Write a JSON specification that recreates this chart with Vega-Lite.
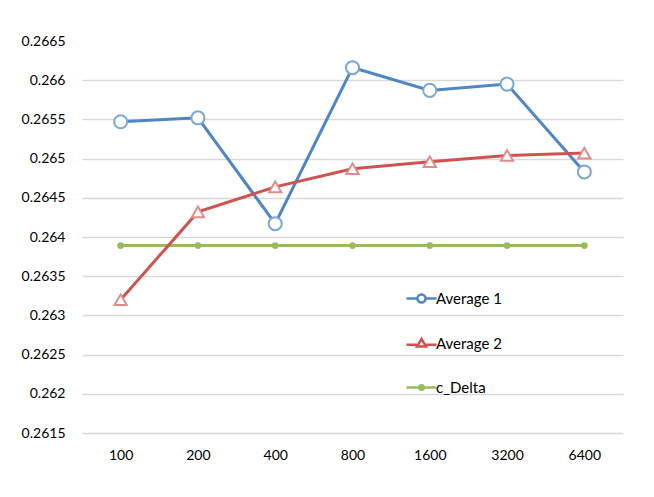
{
  "$schema": "https://vega.github.io/schema/vega-lite/v6.json",
  "description": "Average 1, Average 2 and c_Delta against n",
  "autosize": "none",
  "width": 541,
  "height": 392,
  "padding": {"left": 82, "top": 41, "right": 31, "bottom": 64},
  "background": "white",
  "config": {
    "view": {"stroke": "transparent"},
    "font": "Lato",
    "axis": {"labelFont": "Lato", "labelFontSize": 14, "labelColor": "black", "title": null}
  },
  "data": {
    "values": [
      {"n": "100", "series": "c_Delta", "value": 0.26389},
      {"n": "200", "series": "c_Delta", "value": 0.26389},
      {"n": "400", "series": "c_Delta", "value": 0.26389},
      {"n": "800", "series": "c_Delta", "value": 0.26389},
      {"n": "1600", "series": "c_Delta", "value": 0.26389},
      {"n": "3200", "series": "c_Delta", "value": 0.26389},
      {"n": "6400", "series": "c_Delta", "value": 0.26389},
      {"n": "100", "series": "Average 1", "value": 0.26547},
      {"n": "200", "series": "Average 1", "value": 0.26552},
      {"n": "400", "series": "Average 1", "value": 0.26417},
      {"n": "800", "series": "Average 1", "value": 0.26616},
      {"n": "1600", "series": "Average 1", "value": 0.26587},
      {"n": "3200", "series": "Average 1", "value": 0.26595},
      {"n": "6400", "series": "Average 1", "value": 0.26483},
      {"n": "100", "series": "Average 2", "value": 0.26320},
      {"n": "200", "series": "Average 2", "value": 0.26432},
      {"n": "400", "series": "Average 2", "value": 0.26464},
      {"n": "800", "series": "Average 2", "value": 0.26487},
      {"n": "1600", "series": "Average 2", "value": 0.26496},
      {"n": "3200", "series": "Average 2", "value": 0.26504},
      {"n": "6400", "series": "Average 2", "value": 0.26507}
    ]
  },
  "encoding": {
    "x": {
      "field": "n",
      "type": "ordinal",
      "sort": ["100", "200", "400", "800", "1600", "3200", "6400"],
      "scale": {"type": "point", "padding": 0.5},
      "axis": {"labelAngle": 0, "domain": false, "ticks": false, "tickSize": 0, "labelPadding": 15, "grid": false}
    },
    "y": {
      "field": "value",
      "type": "quantitative",
      "scale": {"domain": [0.2615, 0.2665], "zero": false, "nice": false},
      "axis": {
        "values": [0.2615, 0.262, 0.2625, 0.263, 0.2635, 0.264, 0.2645, 0.265, 0.2655, 0.266, 0.2665],
        "format": ".4~f",
        "domain": false,
        "ticks": false,
        "tickSize": 0,
        "labelPadding": 17,
        "gridColor": "#d9d9d9",
        "gridWidth": 1.3,
        "gridOpacity": {"condition": {"test": "datum.value > 0.26645", "value": 0}, "value": 1}
      }
    }
  },
  "layer": [
    {
      "transform": [{"filter": "datum.series === 'c_Delta'"}],
      "mark": {"type": "line", "strokeWidth": 3},
      "encoding": {
        "color": {
          "field": "series",
          "type": "nominal",
          "scale": {"domain": ["Average 1", "Average 2", "c_Delta"], "range": ["#4f86c6", "#cd5450", "#9bbb59"]},
          "legend": {
            "title": null,
            "orient": "none",
            "legendX": 323,
            "legendY": 241,
            "padding": 0,
            "symbolSize": 900,
            "symbolStrokeWidth": 2.5,
            "rowPadding": 19,
            "labelOffset": -2,
            "labelFont": "Lato",
            "labelFontSize": 15,
            "labelColor": "black",
            "encode": {
              "symbols": {
                "update": {
                  "shape": {"signal": "datum.value === 'Average 1' ? 'M-1,0H-0.27M0.27,0H1M-0.27,0A0.27,0.27 0 1,1 0.27,0A0.27,0.27 0 1,1 -0.27,0Z' : datum.value === 'Average 2' ? 'M-1,0.08H-0.24M0.24,0.08H1M0,-0.3L0.3,0.2L-0.3,0.2Z' : 'M-1,0H1M-0.15,0A0.15,0.15 0 1,1 0.15,0A0.15,0.15 0 1,1 -0.15,0Z'"},
                  "fill": {"signal": "datum.value === 'c_Delta' ? '#9bbb59' : 'white'"},
                  "opacity": {"value": 1}
                }
              }
            }
          }
        }
      }
    },
    {
      "transform": [{"filter": "datum.series === 'c_Delta'"}],
      "mark": {"type": "point", "shape": "circle", "filled": true, "color": "#9bbb59", "size": 45, "opacity": 1}
    },
    {
      "transform": [{"filter": "datum.series === 'Average 1'"}],
      "mark": {"type": "line", "strokeWidth": 3},
      "encoding": {"color": {"field": "series", "type": "nominal"}}
    },
    {
      "transform": [{"filter": "datum.series === 'Average 1'"}],
      "mark": {"type": "point", "shape": "circle", "filled": false, "fill": "white", "fillOpacity": 1, "stroke": "#7aa7da", "strokeWidth": 2, "size": 170, "opacity": 1}
    },
    {
      "transform": [{"filter": "datum.series === 'Average 2'"}],
      "mark": {"type": "line", "strokeWidth": 3},
      "encoding": {"color": {"field": "series", "type": "nominal"}}
    },
    {
      "transform": [{"filter": "datum.series === 'Average 2'"}],
      "mark": {"type": "point", "shape": "triangle-up", "filled": false, "fill": "white", "fillOpacity": 1, "stroke": "#e08d8a", "strokeWidth": 2, "size": 150, "opacity": 1}
    }
  ]
}
